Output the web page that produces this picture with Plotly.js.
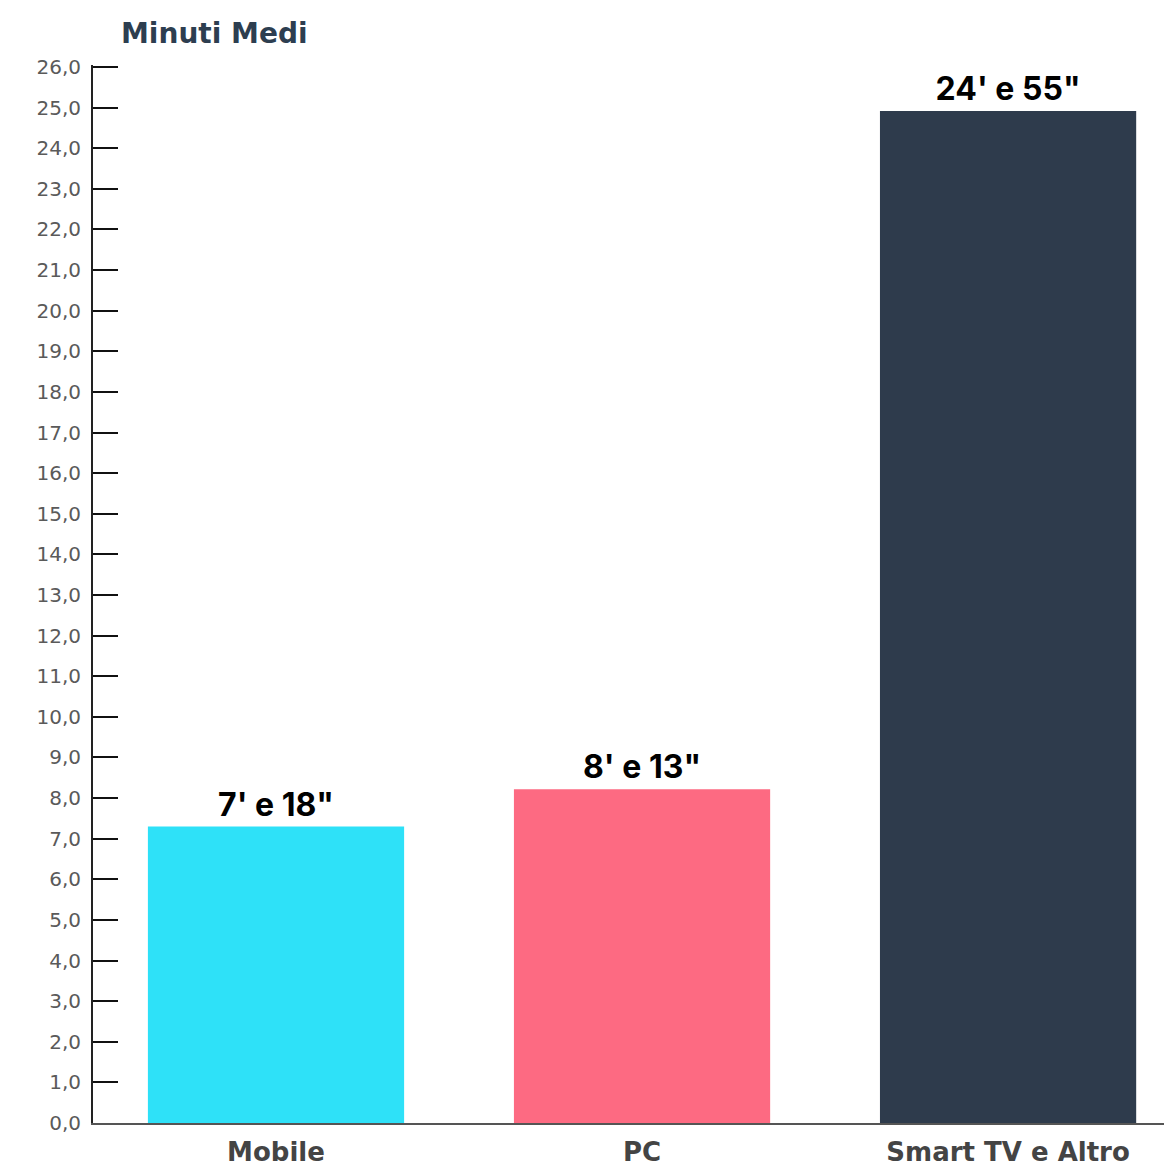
<!DOCTYPE html>
<html>
<head>
<meta charset="utf-8">
<script src="https://cdn.plot.ly/plotly-3.0.1.min.js"></script>
<style>
html,body{margin:0;padding:0;background:#fff;}
#chart{width:1164px;height:1166px;}
</style>
</head>
<body>
<div id="chart"></div>
<script>
const categories = ["Mobile", "PC", "Smart TV e Altro"];
const minutes = [7.3, 8.217, 24.917];
const valueLabels = ["7' e 18\"", "8' e 13\"", "24' e 55\""];
const barColors = ["#2ee1f8", "#fd6a82", "#2e3b4c"];
const yTicks = [0,1,2,3,4,5,6,7,8,9,10,11,12,13,14,15,16,17,18,19,20,21,22,23,24,25,26];

const trace = {
  type: "bar",
  x: categories,
  y: minutes,
  text: valueLabels,
  texttemplate: "%{text}",
  textposition: "outside",
  cliponaxis: false,
  constraintext: "none",
  textfont: {family: "Inter, 'Liberation Sans', sans-serif", size: 32, color: "#000", weight: 700},
  marker: {color: barColors, line: {width: 0}},
  hoverinfo: "none"
};

const layout = {
  width: 1164,
  height: 1166,
  margin: {l: 93, r: 0, t: 65, b: 43},
  paper_bgcolor: "#fff",
  plot_bgcolor: "#fff",
  bargap: 0.3,
  showlegend: false,
  separators: ",.",
  title: {
    text: "<b>Minuti Medi</b>",
    font: {family: "'DejaVu Sans', sans-serif", size: 28, color: "#2d3e50"},
    xref: "container", yref: "container",
    x: 121/1164, xanchor: "left",
    y: 1 - 33/1166, yanchor: "middle"
  },
  xaxis: {
    type: "category",
    range: [-0.5, 2.426],
    showline: true,
    linecolor: "#555",
    linewidth: 2,
    ticks: "",
    showgrid: false,
    zeroline: false,
    tickfont: {family: "'DejaVu Sans', sans-serif", size: 26, color: "#444", weight: 700},
    ticklabelstandoff: 5
  },
  yaxis: {
    range: [0, 26.05],
    tickvals: yTicks,
    tickformat: ".1f",
    showline: true,
    linecolor: "#222",
    linewidth: 2,
    ticks: "inside",
    ticklen: 25,
    tickwidth: 2,
    tickcolor: "#111",
    showgrid: false,
    zeroline: false,
    tickfont: {family: "'DejaVu Sans', sans-serif", size: 20, color: "#5a5a5a"},
    ticklabelstandoff: 6
  }
};

Plotly.newPlot("chart", [trace], layout, {displayModeBar: false, staticPlot: true});
</script>
</body>
</html>
